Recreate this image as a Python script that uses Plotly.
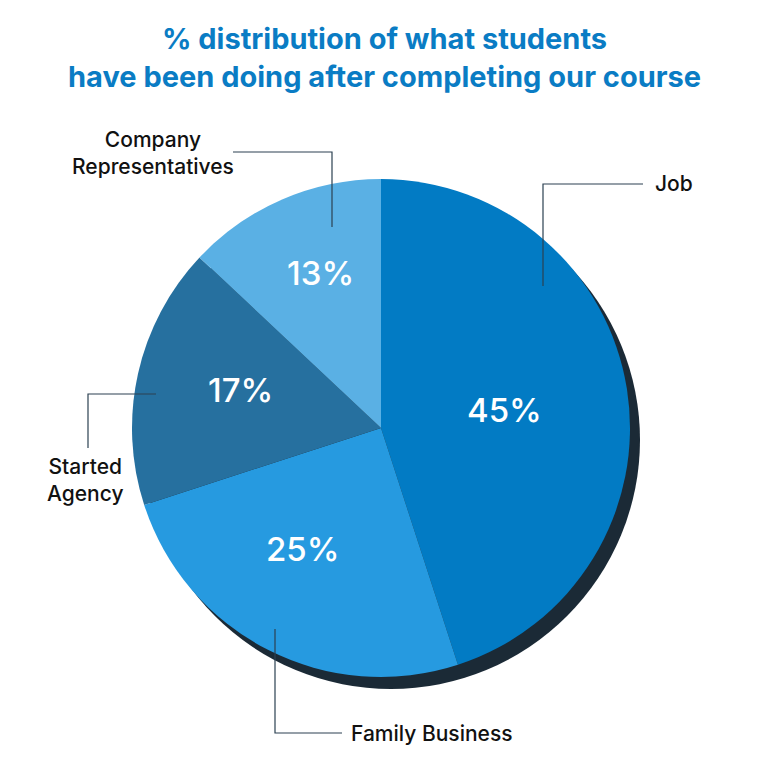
import plotly.graph_objects as go

categories = ["Job", "Family Business", "Started Agency", "Company Representatives"]
values = [45, 25, 17, 13]
label_texts = ["Job", "Family Business", "Started<br>Agency", "Company<br>Representatives"]
colors = ["#027BC4", "#269AE0", "#26709F", "#5AB0E4"]

W = H = 768
OFF = 8  # page body margin offset
cx, cy, R = 381, 428, 249  # pixel center / radius in screenshot coords

def px(x):
    return (x - OFF) / W

def py(y):
    return 1 - (y - OFF) / H

fig = go.Figure()
fig.add_trace(go.Pie(
    labels=categories,
    values=values,
    sort=False,
    direction="clockwise",
    rotation=0,
    marker=dict(colors=colors, line=dict(width=0)),
    textinfo="none",
    hoverinfo="label+percent",
    showlegend=False,
    domain=dict(x=[px(cx - R), px(cx + R)], y=[py(cy + R), py(cy - R)]),
))

shapes = []
# shadow
sx, sy = 10, 12
shapes.append(dict(type="circle", xref="paper", yref="paper", layer="below",
                   x0=px(cx - R + sx), x1=px(cx + R + sx),
                   y0=py(cy + R + sy), y1=py(cy - R + sy),
                   fillcolor="#1B2A36", line=dict(width=0)))

line_color = "#2C4152"
leaders = [
    [(543, 286), (543, 184), (643, 184)],
    [(275, 629), (275, 733), (342, 733)],
    [(156, 394), (88, 394), (88, 448)],
    [(332, 227), (332, 152), (233, 152)],
]
for pts in leaders:
    path = "M " + " L ".join(f"{px(x)},{py(y)}" for x, y in pts)
    shapes.append(dict(type="path", xref="paper", yref="paper", path=path,
                       line=dict(color=line_color, width=1.2), layer="above"))

annotations = []
# category labels
label_pos = [(653, 184, "left"), (349, 733, "left"), (85, 480, "center"), (153, 153, "center")]
for txt, (x, y, al) in zip(label_texts, label_pos):
    annotations.append(dict(text=txt, x=px(x), y=py(y), xref="paper", yref="paper",
                            xanchor=al, yanchor="middle",
                            align="center", showarrow=False,
                            font=dict(family="Inter", size=21, color="#111111", weight=500)))
# percentage labels
pct_pos = [(504, 410), (303, 549), (240, 390), (320, 273)]
for v, (x, y) in zip(values, pct_pos):
    annotations.append(dict(text=f"{v}%", x=px(x), y=py(y), xref="paper", yref="paper",
                            xanchor="center", yanchor="middle", showarrow=False,
                            font=dict(family="Inter", size=33, color="#FFFFFF", weight=500)))
# title
annotations.append(dict(text="% distribution of what students<br>have been doing after completing our course",
                        x=px(384), y=py(57), xref="paper", yref="paper", xanchor="center", yanchor="middle",
                        showarrow=False, align="center",
                        font=dict(family="Inter", size=29, color="#0A7CC4", weight=700)))

fig.update_layout(
    width=W, height=H,
    margin=dict(l=0, r=0, t=0, b=0),
    paper_bgcolor="white", plot_bgcolor="white",
    shapes=shapes, annotations=annotations,
)
fig.write_html("out.html")
